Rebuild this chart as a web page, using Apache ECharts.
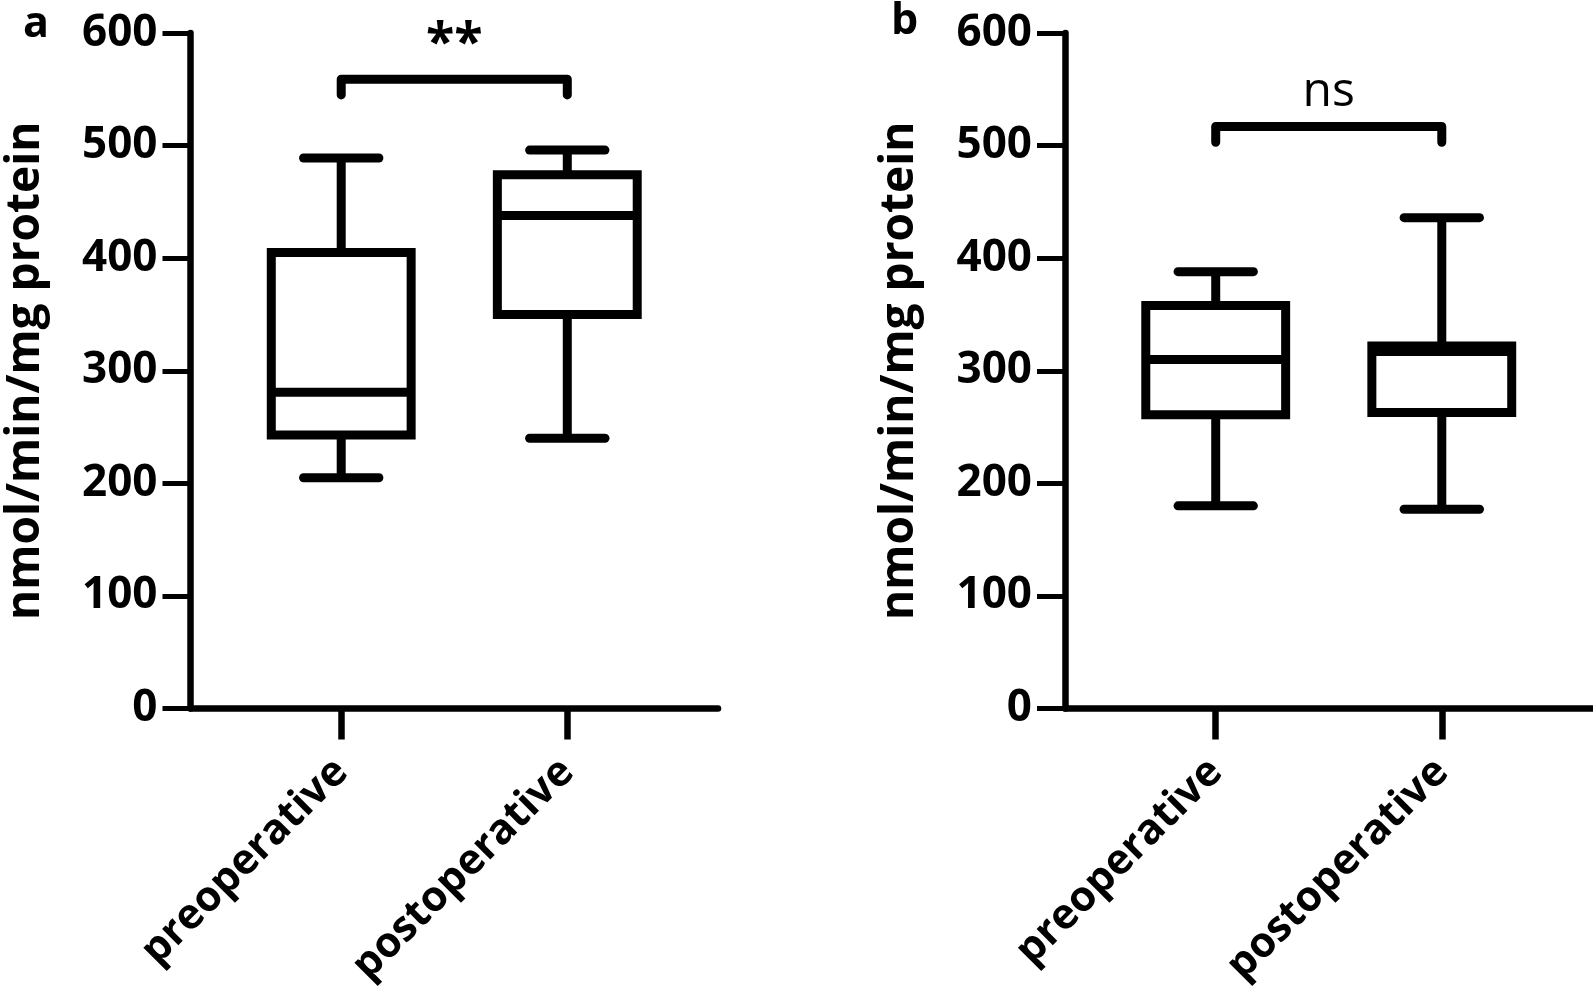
<!DOCTYPE html>
<html>
<head>
<meta charset="utf-8">
<script src="https://cdn.jsdelivr.net/npm/echarts@6/dist/echarts.min.js"></script>
<style>
html,body{margin:0;padding:0;background:#fff;}
#chart{width:1593px;height:990px;}
</style>
</head>
<body>
<div id="chart"></div>
<script>
// ---- data ----
const categories = ['preoperative', 'postoperative'];
const yTicks = [0, 100, 200, 300, 400, 500, 600];
// [min, Q1, median, Q3, max]
const panelA_pre  = [205, 243, 281, 405, 489];
const panelA_post = [240, 350, 438, 474, 496];
const panelB_pre  = [180, 261, 310, 358, 388];
const panelB_post = [177, 263, 317, 322, 436];
// significance: [top of bracket, end of bracket legs, label value]
const sigA = [559, 545, 589];
const sigB = [517, 503, 547];
const sigLabels = ['**', 'ns'];
const panelLabels = ['a', 'b'];
const yTitle = 'nmol/min/mg protein';

// ---- layout ----
const catPos = [2, 5];          // slot positions on a 0..7 x scale
const FONT = 'Open Sans';

function boxData(pre, post) {
  return [[catPos[0]].concat(pre), [catPos[1]].concat(post)];
}

function renderBox(params, api) {
  const x = api.value(0);
  const p = [1,2,3,4,5].map(i => api.coord([x, api.value(i)]));
  const cx = p[0][0];
  const unit = api.size([1, 0])[0];
  const hw = unit * 0.928;
  const cw = unit * 0.5;
  const lsRound = {stroke: '#000', lineWidth: 9, lineCap: 'round'};
  return {
    type: 'group',
    children: [
      {type: 'line', shape: {x1: cx, y1: p[0][1], x2: cx, y2: p[4][1]}, style: {stroke: '#000', lineWidth: 9}},
      {type: 'line', shape: {x1: cx - cw, y1: p[0][1], x2: cx + cw, y2: p[0][1]}, style: lsRound},
      {type: 'line', shape: {x1: cx - cw, y1: p[4][1], x2: cx + cw, y2: p[4][1]}, style: lsRound},
      {type: 'rect', shape: {x: cx - hw, y: p[3][1], width: 2 * hw, height: p[1][1] - p[3][1]},
        style: {fill: '#fff', stroke: '#000', lineWidth: 9, lineJoin: 'miter'}},
      {type: 'line', shape: {x1: cx - hw, y1: p[2][1], x2: cx + hw, y2: p[2][1]}, style: {stroke: '#000', lineWidth: 9}}
    ]
  };
}

function makeSigRender(label, bold, size) {
  return function (params, api) {
    const top = api.value(0), end = api.value(1), ly = api.value(2);
    const a = api.coord([catPos[0], top]);
    const b = api.coord([catPos[1], top]);
    const ae = api.coord([catPos[0], end]);
    const t = api.coord([(catPos[0] + catPos[1]) / 2, ly]);
    return {
      type: 'group',
      children: [
        {type: 'polyline', shape: {points: [[a[0], ae[1]], a, b, [b[0], ae[1]]]},
          style: {stroke: '#000', lineWidth: 9, fill: null, lineCap: 'round', lineJoin: 'round'}},
        {type: 'text', x: t[0], y: t[1],
          style: {text: label, fill: '#000', font: (bold ? 'bold ' : '') + size + 'px "' + FONT + '"',
            textAlign: 'center', textVerticalAlign: 'middle'}}
      ]
    };
  };
}

const grids = [
  {left: 190.5, top: 33, width: 527.5, height: 675.5, containLabel: false, outerBoundsMode: 'none'},
  {left: 1065, top: 33, width: 527.5, height: 675.5, containLabel: false, outerBoundsMode: 'none'}
];

function xAxisDef(i) {
  return {
    gridIndex: i, type: 'value', min: 0, max: 7,
    splitLine: {show: false},
    axisLine: {show: true, lineStyle: {color: '#000', width: 6.5}},
    axisTick: {show: true, customValues: catPos, length: 31, lineStyle: {color: '#000', width: 6.5}},
    axisLabel: {show: true, customValues: catPos, rotate: 45, margin: 57,
      formatter: v => categories[catPos.indexOf(v)] || '',
      color: '#000', fontFamily: FONT, fontWeight: 'bold', fontSize: 42}
  };
}
function yAxisDef(i) {
  return {
    gridIndex: i, type: 'value', min: yTicks[0], max: yTicks[yTicks.length - 1], interval: 100,
    splitLine: {show: false},
    axisLine: {show: true, lineStyle: {color: '#000', width: 6.5}},
    axisTick: {show: true, length: 28, lineStyle: {color: '#000', width: 5}},
    axisLabel: {margin: 33, color: '#000', fontFamily: FONT, fontWeight: 'bold', fontSize: 44},
    name: yTitle, nameLocation: 'middle', nameGap: 142, nameRotate: 90,
    nameTextStyle: {color: '#000', fontFamily: FONT, fontWeight: 'bold', fontSize: 46}
  };
}

const chart = echarts.init(document.getElementById('chart'), null, {renderer: 'canvas'});
chart.setOption({
  backgroundColor: '#fff',
  animation: false,
  grid: grids,
  xAxis: [xAxisDef(0), xAxisDef(1)],
  yAxis: [yAxisDef(0), yAxisDef(1)],
  graphic: [
    {type: 'text', left: 23, top: 3, style: {text: panelLabels[0], fill: '#000', font: 'bold 43px "' + FONT + '"'}},
    {type: 'text', left: 891, top: 0, style: {text: panelLabels[1], fill: '#000', font: 'bold 43px "' + FONT + '"'}}
  ],
  series: [
    {type: 'custom', xAxisIndex: 0, yAxisIndex: 0, renderItem: renderBox,
      data: boxData(panelA_pre, panelA_post), clip: false},
    {type: 'custom', xAxisIndex: 1, yAxisIndex: 1, renderItem: renderBox,
      data: boxData(panelB_pre, panelB_post), clip: false},
    {type: 'custom', xAxisIndex: 0, yAxisIndex: 0, renderItem: makeSigRender(sigLabels[0], true, 52),
      data: [sigA], clip: false},
    {type: 'custom', xAxisIndex: 1, yAxisIndex: 1, renderItem: makeSigRender(sigLabels[1], false, 48),
      data: [sigB], clip: false}
  ]
});
</script>
</body>
</html>
